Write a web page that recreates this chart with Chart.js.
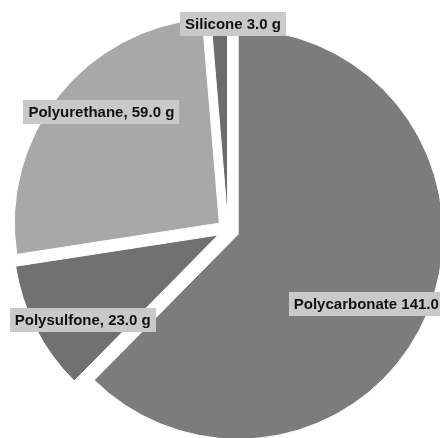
<!DOCTYPE html>
<html lang="en">
<head>
  <meta charset="UTF-8" />
  <title>Polymer mass breakdown</title>
  <script src="https://cdn.jsdelivr.net/npm/chart.js"></script>
  <style>
    html, body {
      margin: 0;
      padding: 0;
      background: #fff;
    }
    #wrap {
      width: 440px;
      height: 438px;
      position: relative;
    }
  </style>
</head>
<body>
  <div id="wrap">
    <canvas id="pie"></canvas>
  </div>

  <script>
    // data (grams)
    const materials = ["Polycarbonate", "Polysulfone", "Polyurethane", "Silicone"];
    const grams = [141.0, 23.0, 59.0, 3.0];
    const labelText = ["Polycarbonate 141.0 g", "Polysulfone, 23.0 g", "Polyurethane, 59.0 g", "Silicone 3.0 g"];

    // styling, kept apart from the values
    const sliceColors = ["#7c7c7c", "#717171", "#a8a8a8", "#6c6c6c"];
    const explode = 11;                             // px every slice is pushed out
    const labelDist = [0.74, 0.78, 0.79, 0.95];     // fraction of radius
    const labelTurn = [5, -5, 5, 4];                // degrees clockwise from slice middle

    // Chart.js "offset" also grows the radius of wide slices,
    // so push each arc's centre out ourselves for an even explode
    const explodeSlices = {
      id: "explodeSlices",
      afterUpdate(chart) {
        chart.getDatasetMeta(0).data.forEach(arc => {
          const mid = (arc.startAngle + arc.endAngle) / 2;
          arc.x += Math.cos(mid) * explode;
          arc.y += Math.sin(mid) * explode;
        });
      }
    };

    // draws the grey boxed labels on top of the slices
    const boxLabels = {
      id: "boxLabels",
      afterDatasetsDraw(chart) {
        const ctx = chart.ctx;
        const arcs = chart.getDatasetMeta(0).data;
        ctx.save();
        ctx.font = "bold 15px 'Liberation Sans', Arial, sans-serif";
        ctx.textAlign = "center";
        ctx.textBaseline = "middle";
        arcs.forEach((arc, i) => {
          const p = arc.getProps(["x", "y", "startAngle", "endAngle", "outerRadius"], true);
          const mid = (p.startAngle + p.endAngle) / 2 + labelTurn[i] * Math.PI / 180;
          const d = labelDist[i] * p.outerRadius;
          const cx = p.x + Math.cos(mid) * d;
          const cy = p.y + Math.sin(mid) * d;
          const w = ctx.measureText(labelText[i]).width + 10;
          const h = 24;
          ctx.fillStyle = "#c9c9c9";
          ctx.fillRect(Math.round(cx - w / 2), Math.round(cy - h / 2), Math.round(w), h);
          ctx.fillStyle = "#111";
          ctx.fillText(labelText[i], cx, cy + 1);
        });
        ctx.restore();
      }
    };

    new Chart(document.getElementById("pie"), {
      type: "pie",
      data: {
        labels: materials,
        datasets: [{
          data: grams,
          backgroundColor: sliceColors,
          borderColor: "#ffffff",
          borderWidth: 1,
          offset: 0,
          hoverOffset: 0,
          clip: false
        }]
      },
      options: {
        responsive: true,
        maintainAspectRatio: false,
        animation: false,
        radius: 205,
        layout: {
          padding: { left: 16, top: 22, right: 0, bottom: 0 }
        },
        plugins: {
          legend: { display: false },
          tooltip: { enabled: false }
        }
      },
      plugins: [explodeSlices, boxLabels]
    });
  </script>
</body>
</html>
